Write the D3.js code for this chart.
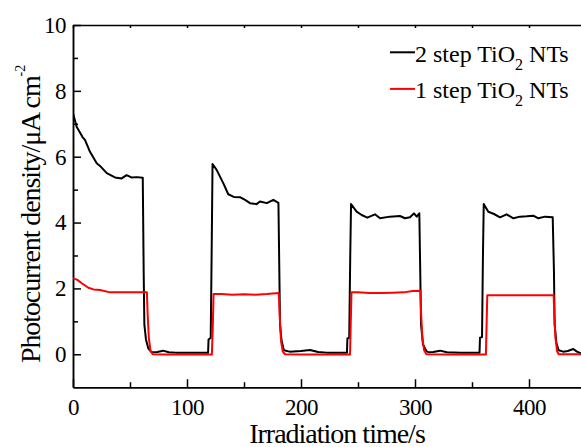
<!DOCTYPE html>
<html>
<head>
<meta charset="utf-8">
<script src="https://cdn.jsdelivr.net/npm/d3@7"></script>
<style>
  html, body { margin: 0; padding: 0; background: #fff; }
  svg { display: block; }
</style>
</head>
<body>
<div id="chart"></div>
<script>
// photocurrent response, [time (s), current density (uA cm-2)]
const step2Series = [
    [0, 7.32], [3.2, 6.91], [8.5, 6.59], [10.5, 6.51], [14.9, 6.15], [20.8, 5.80], [23.7, 5.72],
    [29.6, 5.50], [36.8, 5.37], [42.7, 5.34], [47, 5.44], [51.2, 5.37], [56, 5.38], [61.2, 5.36],
    [62.0, 2.5], [62.6, 0.9], [64, 0.45], [66, 0.18], [69, 0.06], [74, 0.07], [79, 0.11], [84, 0.06],
    [90, 0.05], [100, 0.05], [110, 0.05], [118.5, 0.05], [118.9, 0.45], [120.8, 0.5], [121.6, 3],
    [122.4, 5.78], [126, 5.60], [131.9, 5.19], [136.2, 4.86], [141, 4.78], [146.5, 4.77], [150.9, 4.69],
    [155.3, 4.59], [161, 4.56], [164, 4.64], [170, 4.59], [175.7, 4.69], [180.2, 4.6],
    [181, 2.5], [181.6, 0.9], [183, 0.4], [185, 0.12], [190, 0.08], [200, 0.1], [207.9, 0.13],
    [215, 0.07], [222.5, 0.05], [230, 0.05], [240.3, 0.05], [240.7, 0.48], [242.3, 0.5], [243.2, 3],
    [243.9, 4.56], [248.8, 4.33], [253.2, 4.23], [258.2, 4.15], [264.9, 4.25], [269.3, 4.13],
    [278, 4.18], [286.8, 4.20], [291.2, 4.13], [295.6, 4.16], [299.1, 4.28], [301.5, 4.18], [303.8, 4.28],
    [304.6, 2.5], [305.3, 0.9], [307, 0.3], [310, 0.1], [311.7, 0.06], [316, 0.07], [321.9, 0.11],
    [328, 0.06], [340, 0.05], [356.6, 0.05], [357.0, 0.5], [358.8, 0.52], [359.6, 3], [360.3, 4.56],
    [364.3, 4.33], [369.3, 4.26], [374.6, 4.16], [380.4, 4.25], [386.3, 4.13], [392.1, 4.18],
    [398, 4.19], [403.8, 4.21], [408.2, 4.13], [414, 4.18], [420.8, 4.16],
    [421.9, 2.5], [422.5, 0.9], [424, 0.35], [426, 0.12], [430, 0.08], [434, 0.1], [438.9, 0.16],
    [442, 0.08], [445.6, 0.03], [450, 0.03]
];

const step1Series = [
    [0, 2.31], [3.8, 2.26], [8, 2.15], [13.5, 2.02], [18, 1.97], [23.7, 1.95], [32.5, 1.88],
    [45, 1.88], [55, 1.88], [64.8, 1.88], [65.5, 1.2], [66.5, 0.5], [68, 0.1], [70, 0.0],
    [80, -0.01], [100, -0.01], [121.8, -0.01], [122.6, 0.8], [123.3, 1.83], [130, 1.83], [140, 1.81],
    [150, 1.82], [160, 1.81], [170, 1.83], [180.5, 1.86], [181.3, 1.2], [182.5, 0.4], [184, 0.08],
    [186, 0.0], [200, -0.01], [243, -0.01], [243.6, 0.9], [244.3, 1.88], [250, 1.88], [260, 1.86],
    [270, 1.86], [280, 1.87], [290, 1.88], [298, 1.92], [304.8, 1.93], [305.4, 1.2], [306.5, 0.5],
    [308, 0.12], [310, 0.0], [330, -0.01], [362.2, -0.01], [362.8, 0.9], [363.4, 1.79], [380, 1.79],
    [400, 1.79], [421.6, 1.79], [422.2, 1.2], [423.2, 0.5], [424.6, 0.1], [426, 0.0], [450, 0.0]
];

const xMajorTicks = [0, 100, 200, 300, 400];
const xMinorTicks = [50, 150, 250, 350, 450];
const yMajorTicks = [0, 2, 4, 6, 8, 10];
const yMinorTicks = [1, 3, 5, 7, 9];

const serif = "'Liberation Serif', Tinos, 'Times New Roman', 'DejaVu Serif', serif";
const width = 581, height = 447;

const svg = d3.select("#chart").append("svg")
    .attr("width", width)
    .attr("height", height)
    .style("font-family", serif);

const x = d3.scaleLinear().domain([0, 450]).range([73, 586]);
const y = d3.scaleLinear().domain([-1, 10]).range([387.2, 25]);

svg.append("defs").append("clipPath").attr("id", "plot")
    .append("rect").attr("x", 73).attr("y", 25).attr("width", 520).attr("height", 362.2);

// axes, ticks point inward
function styleAxis(g) {
    g.attr("font-family", null).attr("font-size", null);
    g.selectAll("path, line").attr("stroke", "#000").attr("stroke-width", 1.5);
    g.selectAll("text").attr("fill", "#000").style("font-family", serif)
        .style("font-size", "23px").attr("letter-spacing", -0.5);
}

svg.append("g")
    .attr("transform", "translate(0," + y(-1) + ")")
    .call(d3.axisBottom(x).tickValues(xMinorTicks).tickSize(-5).tickFormat("").tickSizeOuter(0))
    .call(styleAxis);
svg.append("g")
    .attr("transform", "translate(0," + y(-1) + ")")
    .call(d3.axisBottom(x).tickValues(xMajorTicks).tickSize(-8).tickPadding(11).tickSizeOuter(0))
    .call(styleAxis);

svg.append("g")
    .attr("transform", "translate(0," + y(10) + ")")
    .call(d3.axisTop(x).tickValues(xMajorTicks.concat(xMinorTicks)).tickSize(-3).tickFormat("").tickSizeOuter(0))
    .call(styleAxis);

svg.append("g")
    .attr("transform", "translate(" + x(0) + ",0)")
    .call(d3.axisLeft(y).tickValues(yMinorTicks).tickSize(-5).tickFormat("").tickSizeOuter(0))
    .call(styleAxis);
svg.append("g")
    .attr("transform", "translate(" + x(0) + ",0)")
    .call(d3.axisLeft(y).tickValues(yMajorTicks).tickSize(-8).tickPadding(7).tickSizeOuter(0))
    .call(styleAxis);

// curves
const line = d3.line().x(d => x(d[0])).y(d => y(d[1]));

const plot = svg.append("g").attr("clip-path", "url(#plot)");
plot.append("path").datum(step2Series)
    .attr("d", line).attr("fill", "none").attr("stroke", "#000").attr("stroke-width", 2)
    .attr("stroke-linejoin", "round");
plot.append("path").datum(step1Series)
    .attr("d", line).attr("fill", "none").attr("stroke", "#ff0000").attr("stroke-width", 2)
    .attr("stroke-linejoin", "round");

// legend
const legendItems = [
    { label: "2 step TiO", color: "#000" },
    { label: "1 step TiO", color: "#ff0000" }
];
legendItems.forEach((item, i) => {
    const baseY = 61.7 + i * 36.6;
    svg.append("line")
        .attr("x1", 390).attr("x2", 415)
        .attr("y1", baseY - 9.4).attr("y2", baseY - 9.4)
        .attr("stroke", item.color).attr("stroke-width", 2);
    const t = svg.append("text").attr("x", 415).attr("y", baseY).style("font-size", "24px");
    t.append("tspan").text(item.label);
    t.append("tspan").style("font-size", "16px").attr("dy", 8).text("2");
    t.append("tspan").attr("dy", -8).text(" NTs");
});

// axis titles
svg.append("text")
    .attr("x", 337).attr("y", 442.5)
    .attr("text-anchor", "middle")
    .style("font-size", "28px").attr("letter-spacing", -1)
    .text("Irradiation time/s");

const yTitle = svg.append("text")
    .attr("transform", "translate(40,363) rotate(-90)")
    .style("font-size", "28px").attr("letter-spacing", -1.1);
yTitle.append("tspan").text("Photocurrent density/\u03bcA cm");
yTitle.append("tspan").style("font-size", "14px").attr("dy", -15).attr("letter-spacing", 0).text("-2");
</script>
</body>
</html>
